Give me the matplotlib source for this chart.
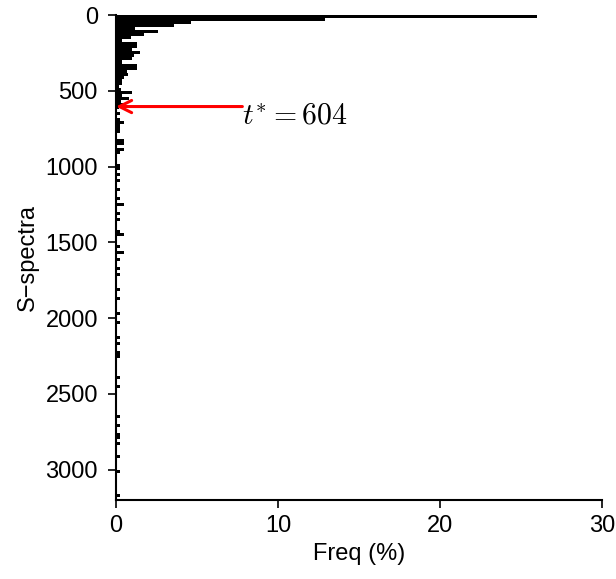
import matplotlib
matplotlib.use("Agg")
import matplotlib.pyplot as plt

# histogram of S-spectra (bin width 20), frequency in %
bin_width = 20
dense_freq = [26.0, 12.9, 4.6, 3.6, 1.2, 2.6, 1.7, 0.9, 0.4, 1.3,
              1.3, 1.0, 1.5, 1.1, 1.0, 0.4, 1.3, 1.3, 0.7, 0.75,
              0.5, 0.35, 0.35, 0.2, 0.3, 1.0, 0.4, 0.8, 0.3, 0.5,
              0.2]
sparse_bins = [32, 34, 35, 36, 37, 38, 41, 42, 44, 45, 49, 50, 52, 54, 57,
               60, 62, 65, 67, 71, 72, 76, 78, 80, 83, 85, 90, 93, 98, 101,
               106, 108, 111, 112, 119, 122, 132, 135, 138, 139, 141, 145,
               150, 158]
sparse_freq = [0.25, 0.25, 0.5, 0.25, 0.25, 0.25, 0.5, 0.5, 0.5, 0.25, 0.25,
               0.25, 0.25, 0.25, 0.25, 0.25, 0.5, 0.25, 0.25, 0.25, 0.5, 0.25,
               0.5, 0.25, 0.25, 0.25, 0.25, 0.25, 0.25, 0.25, 0.25, 0.25,
               0.25, 0.25, 0.25, 0.25, 0.25, 0.25, 0.25, 0.25, 0.25, 0.25,
               0.25, 0.25]
t_star = 604
arrow_from = 7.8
x_ticks = [0, 10, 20, 30]
y_ticks = [0, 500, 1000, 1500, 2000, 2500, 3000]

bins = list(range(len(dense_freq))) + sparse_bins
freqs = dense_freq + sparse_freq
starts = [b * bin_width for b in bins]

plt.rcParams['font.family'] = ['Liberation Sans', 'DejaVu Sans']
plt.rcParams['mathtext.fontset'] = 'cm'

fig = plt.figure(figsize=(6.16, 5.79), dpi=100)
ax = fig.add_axes([116/616, 1 - 500/579, (602-116)/616, (500-15)/579])

ax.barh(starts, freqs, height=bin_width, align='edge', color='black', linewidth=0)

ax.set_xlim(0, 30)
ax.set_ylim(3200, 0)
ax.set_xticks(x_ticks)
ax.set_yticks(y_ticks)
for s in ['top', 'right']:
    ax.spines[s].set_visible(False)
for s in ['left', 'bottom']:
    ax.spines[s].set_linewidth(1.5)
ax.tick_params(direction='out', length=6, width=1.2, labelsize=17)
ax.tick_params(axis='y', pad=7)
ax.tick_params(axis='x', pad=5)
ax.set_xlabel('Freq (%)', fontsize=17, labelpad=4)
ax.set_ylabel('S\u2212spectra', fontsize=17, labelpad=5)

ax.annotate('', xy=(0, t_star), xytext=(arrow_from, t_star),
            arrowprops=dict(arrowstyle='->', color='red', lw=2.2,
                            mutation_scale=22, shrinkA=0, shrinkB=0))
ax.text(arrow_from, t_star - 28, r'$t^{*} = %d$' % t_star, fontsize=21.5,
        ha='left', va='top')

fig.savefig('out.png', dpi=100)
